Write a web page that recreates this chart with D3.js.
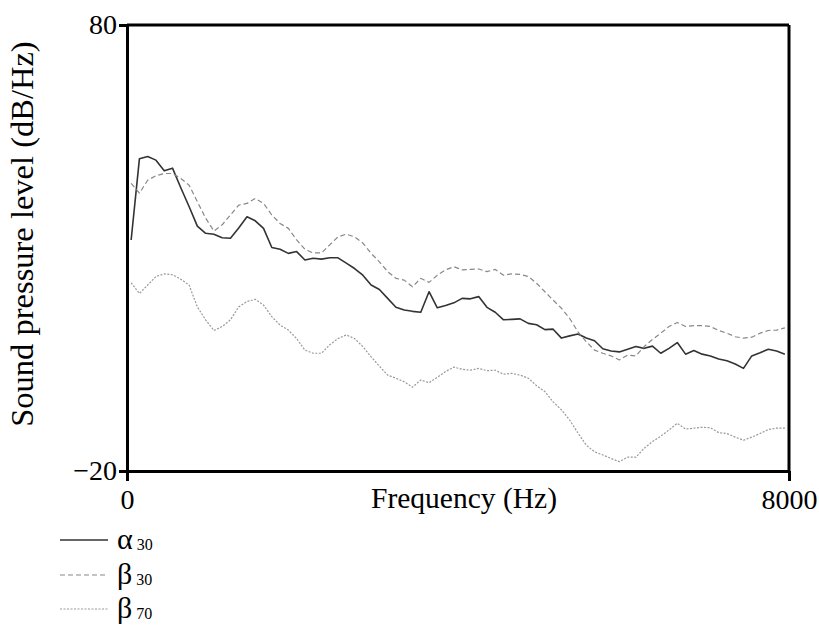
<!DOCTYPE html>
<html>
<head>
<meta charset="utf-8">
<script src="https://cdn.jsdelivr.net/npm/d3@7"></script>
<style>
  html, body { margin: 0; padding: 0; background: #fff; }
  svg { display: block; font-family: "Liberation Serif", "Times New Roman", serif; }
</style>
</head>
<body>
<div id="chart"></div>
<script>
// frequency of each sample (Hz)
const freqHz = [50, 150, 250, 350, 450, 550, 650, 750, 850, 950,
  1050, 1150, 1250, 1350, 1450, 1550, 1650, 1750, 1850, 1950,
  2050, 2150, 2250, 2350, 2450, 2550, 2650, 2750, 2850, 2950,
  3050, 3150, 3250, 3350, 3450, 3550, 3650, 3750, 3850, 3950,
  4050, 4150, 4250, 4350, 4450, 4550, 4650, 4750, 4850, 4950,
  5050, 5150, 5250, 5350, 5450, 5550, 5650, 5750, 5850, 5950,
  6050, 6150, 6250, 6350, 6450, 6550, 6650, 6750, 6850, 6950,
  7050, 7150, 7250, 7350, 7450, 7550, 7650, 7750, 7850, 7950];

// sound pressure level (dB/Hz)
const alpha30 = [31.8, 50.0, 50.5, 49.7, 47.3, 47.9, 43.5, 39.3, 34.9, 33.3,
  33.1, 32.3, 32.2, 34.5, 37.0, 36.1, 34.4, 30.1, 29.7, 28.8,
  29.2, 27.3, 27.7, 27.5, 27.8, 27.8, 26.6, 25.4, 23.9, 21.7,
  20.7, 18.7, 16.7, 16.1, 15.8, 15.6, 20.2, 16.6, 17.1, 17.7,
  18.7, 18.6, 19.1, 16.7, 15.6, 13.9, 14.0, 14.1, 13.1, 12.8,
  11.7, 11.8, 9.8, 10.3, 10.7, 9.8, 9.2, 7.4, 6.9, 6.7,
  7.3, 7.9, 7.5, 8.0, 6.4, 7.5, 8.8, 6.2, 7.0, 6.2,
  5.8, 5.1, 4.7, 4.0, 3.0, 5.8, 6.5, 7.3, 6.9, 6.2];

const beta30 = [44.5, 42.3, 45.2, 46.2, 46.7, 46.7, 45.6, 44.1, 40.4, 36.7,
  33.8, 35.2, 37.4, 39.6, 40.0, 41.1, 40.0, 37.4, 35.5, 34.4,
  31.8, 29.7, 28.9, 28.9, 30.7, 32.5, 33.1, 32.5, 31.1, 28.8,
  26.9, 24.7, 23.2, 22.8, 21.3, 23.2, 22.3, 23.9, 25.1, 25.8,
  25.1, 25.2, 25.3, 24.7, 25.2, 23.9, 24.2, 24.1, 23.6, 22.1,
  20.2, 18.3, 16.5, 14.2, 11.2, 9.0, 7.1, 6.4, 5.8, 4.9,
  6.0, 5.8, 7.9, 9.5, 10.9, 12.4, 13.3, 12.4, 12.6, 12.6,
  12.4, 11.5, 10.9, 10.1, 9.8, 10.0, 10.9, 11.5, 11.6, 12.1];

const beta70 = [22.2, 19.8, 21.7, 23.6, 24.2, 24.0, 23.0, 21.7, 16.8, 13.9,
  11.5, 12.4, 13.9, 16.8, 18.0, 18.5, 17.2, 14.6, 12.7, 11.6,
  9.7, 7.1, 6.4, 6.4, 8.3, 9.7, 10.5, 9.7, 7.9, 5.6,
  3.5, 1.5, 0.8, 0.0, -1.2, 0.4, -0.2, 1.0, 2.3, 3.3,
  2.8, 2.6, 3.0, 2.5, 2.6, 1.7, 1.9, 1.5, 0.8, -0.9,
  -2.2, -4.5, -6.3, -8.6, -11.5, -14.2, -15.7, -16.4, -17.2, -17.9,
  -16.9, -16.9, -14.9, -13.4, -12.2, -10.8, -9.3, -10.6, -10.4, -10.2,
  -10.3, -11.4, -11.6, -12.4, -13.1, -12.4, -11.6, -10.7, -10.4, -10.4];

const seriesNames = [["α", "30"], ["β", "30"], ["β", "70"]];
const xTicks = [0, 8000];
const yTicks = [-20, 80];

const W = 819, H = 625;
const FONT = "'Liberation Serif', 'Times New Roman', serif";
const svg = d3.select("#chart").append("svg")
  .attr("width", W).attr("height", H);

const x = d3.scaleLinear().domain([0, 8000]).range([127, 789]);
const y = d3.scaleLinear().domain([-20, 80]).range([471, 25]);

// line styles for the three series
const styles = [
  { stroke: "#333333", width: 1.6, dash: null },
  { stroke: "#888888", width: 1.2, dash: "5,3" },
  { stroke: "#999999", width: 1.2, dash: "2,1.5" }
];
const allSeries = [alpha30, beta30, beta70];

const line = d3.line()
  .x((d, i) => x(freqHz[i]))
  .y(d => y(d));

allSeries.forEach((vals, i) => {
  svg.append("path")
    .datum(vals)
    .attr("fill", "none")
    .attr("stroke", styles[i].stroke)
    .attr("stroke-width", styles[i].width)
    .attr("stroke-dasharray", styles[i].dash)
    .attr("stroke-linejoin", "round")
    .attr("d", line);
});

// frame (top and right borders)
svg.append("line")
  .attr("x1", x(0)).attr("x2", x(8000))
  .attr("y1", y(80)).attr("y2", y(80))
  .attr("stroke", "#000").attr("stroke-width", 3);
svg.append("line")
  .attr("x1", x(8000)).attr("x2", x(8000))
  .attr("y1", y(80)).attr("y2", y(-20))
  .attr("stroke", "#000").attr("stroke-width", 3);

// axes
const yAxis = svg.append("g")
  .attr("transform", `translate(${x(0)},0)`)
  .call(d3.axisLeft(y).tickValues(yTicks).tickFormat(d3.format("d"))
    .tickSize(8).tickSizeOuter(0).tickPadding(2));
const xAxis = svg.append("g")
  .attr("transform", `translate(0,${y(-20)})`)
  .call(d3.axisBottom(x).tickValues(xTicks).tickFormat(d3.format("d"))
    .tickSize(10).tickSizeOuter(0).tickPadding(8));

[xAxis, yAxis].forEach(g => {
  g.attr("font-family", FONT).attr("font-size", 28);
  g.select(".domain").attr("stroke", "#000").attr("stroke-width", 3);
  g.selectAll(".tick line").attr("stroke", "#000").attr("stroke-width", 3);
  g.selectAll(".tick text").attr("fill", "#000");
});

// axis titles
svg.append("text")
  .attr("x", 464).attr("y", 508)
  .attr("text-anchor", "middle")
  .attr("font-family", FONT)
  .attr("font-size", 29.5)
  .text("Frequency (Hz)");

svg.append("text")
  .attr("transform", "translate(33,234) rotate(-90)")
  .attr("text-anchor", "middle")
  .attr("font-family", FONT)
  .attr("font-size", 32.5)
  .text("Sound pressure level (dB/Hz)");

// legend
const legendY = [540, 575, 609];
seriesNames.forEach((nm, i) => {
  svg.append("line")
    .attr("x1", 60).attr("x2", 108)
    .attr("y1", legendY[i]).attr("y2", legendY[i])
    .attr("stroke", styles[i].stroke)
    .attr("stroke-width", styles[i].width)
    .attr("stroke-dasharray", styles[i].dash);
  const t = svg.append("text")
    .attr("x", 117).attr("y", legendY[i] + 9)
    .attr("font-family", FONT);
  t.append("tspan").attr("font-size", 30).text(nm[0]);
  t.append("tspan").attr("dx", 4).attr("dy", 1).attr("font-size", 16).text(nm[1]);
});
</script>
</body>
</html>
